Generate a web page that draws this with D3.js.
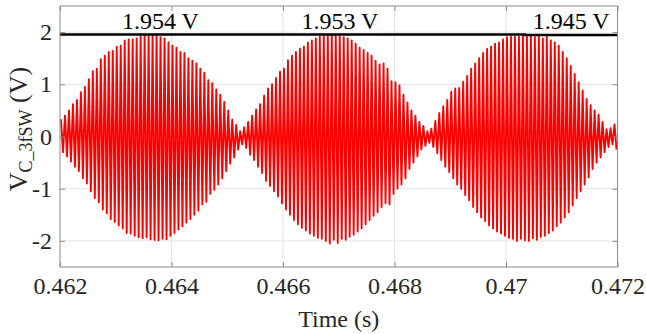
<!DOCTYPE html>
<html>
<head>
<meta charset="utf-8">
<script src="https://cdn.jsdelivr.net/npm/d3@7"></script>
<style>
  body { margin: 0; background: #fff; }
  svg { display: block; }
</style>
</head>
<body>
<svg id="chart" width="646" height="334"></svg>
<script>
// time window and ticks
const timeDomain = [0.462, 0.472];
const xTicks = [0.462, 0.464, 0.466, 0.468, 0.47, 0.472];
const yTicks = [-2, -1, 0, 1, 2];

// positive peak of each switching cycle (V)
const upperPeaks = [
  0.33, 0.40, 0.50, 0.62, 0.70, 0.85, 0.95, 1.10, 1.25, 1.30,
  1.48, 1.55, 1.62, 1.64, 1.72, 1.74, 1.84, 1.86, 1.86, 1.88,
  1.92, 1.93, 1.93, 1.95, 1.954, 1.90, 1.88, 1.80, 1.74, 1.70,
  1.62, 1.60, 1.50, 1.45, 1.40, 1.30, 1.22, 1.08, 1.02, 0.90,
  0.80, 0.66, 0.50, 0.32, 0.22, 0.10, 0.18, 0.28, 0.40, 0.52,
  0.62, 0.78, 0.92, 1.00, 1.12, 1.24, 1.30, 1.46, 1.55, 1.62,
  1.68, 1.72, 1.80, 1.84, 1.88, 1.91, 1.92, 1.93, 1.94, 1.95,
  1.953, 1.90, 1.88, 1.84, 1.78, 1.70, 1.66, 1.60, 1.55, 1.45,
  1.38, 1.40, 1.30, 1.06, 1.04, 0.98, 0.80, 0.65, 0.50, 0.40,
  0.28, 0.20, 0.10, 0.15, 0.30, 0.45, 0.58, 0.70, 0.86, 0.92,
  0.93, 1.05, 1.16, 1.30, 1.40, 1.50, 1.60, 1.68, 1.72, 1.78,
  1.80, 1.86, 1.90, 1.91, 1.91, 1.91, 1.92, 1.93, 1.945, 1.90,
  1.93, 1.88, 1.91, 1.84, 1.80, 1.74, 1.62, 1.50, 1.35, 1.20,
  1.04, 0.88, 0.72, 0.60, 0.50, 0.42, 0.28, 0.14, 0.16, 0.23
];

// negative peak of each switching cycle (V)
const lowerPeaks = [
  -0.30, -0.38, -0.48, -0.58, -0.66, -0.80, -0.90, -1.05, -1.18, -1.26,
  -1.40, -1.47, -1.58, -1.64, -1.70, -1.76, -1.85, -1.86, -1.90, -1.93,
  -1.95, -1.93, -1.97, -1.98, -1.99, -1.96, -1.97, -1.90, -1.85, -1.78,
  -1.72, -1.65, -1.58, -1.50, -1.42, -1.30, -1.25, -1.10, -1.02, -0.92,
  -0.80, -0.66, -0.52, -0.40, -0.25, -0.15, -0.22, -0.35, -0.45, -0.58,
  -0.70, -0.85, -0.95, -1.05, -1.15, -1.28, -1.40, -1.50, -1.60, -1.68,
  -1.75, -1.80, -1.86, -1.90, -1.94, -1.96, -2.00, -2.05, -1.98, -2.04,
  -1.96, -1.98, -1.92, -1.88, -1.82, -1.76, -1.68, -1.60, -1.52, -1.45,
  -1.35, -1.28, -1.30, -1.10, -1.00, -0.92, -0.80, -0.62, -0.50, -0.38,
  -0.25, -0.18, -0.12, -0.20, -0.32, -0.45, -0.58, -0.68, -0.80, -0.92,
  -1.00, -1.12, -1.22, -1.35, -1.45, -1.55, -1.62, -1.70, -1.76, -1.82,
  -1.86, -1.90, -1.94, -1.96, -2.00, -1.96, -1.99, -2.00, -1.95, -1.98,
  -1.92, -1.90, -1.85, -1.80, -1.72, -1.65, -1.55, -1.45, -1.32, -1.18,
  -1.05, -0.92, -0.78, -0.62, -0.50, -0.40, -0.30, -0.20, -0.15, -0.25
];

// peak-hold level (step changes) and annotations
const peakLevel = [
  { t: 0.462, v: 1.954 },
  { t: 0.4652, v: 1.953 },
  { t: 0.47034, v: 1.945 },
  { t: 0.472, v: 1.945 }
];
const peakNotes = [
  { t: 0.46380, text: "1.954 V" },
  { t: 0.46702, text: "1.953 V" },
  { t: 0.47117, text: "1.945 V" }
];

const svg = d3.select("#chart");
const margin = { left: 60, right: 28.5, top: 6, bottom: 67 };
const W = 646, H = 334;
const plotW = W - margin.left - margin.right;
const plotH = H - margin.top - margin.bottom;
const font = "'Liberation Serif', 'Times New Roman', serif";

const x = d3.scaleLinear().domain(timeDomain).range([margin.left, margin.left + plotW]);
const y = d3.scaleLinear().domain([-2.5, 2.5]).range([margin.top + plotH, margin.top]);

svg.append("defs").append("clipPath").attr("id", "plotClip")
   .append("rect")
   .attr("x", margin.left).attr("y", margin.top)
   .attr("width", plotW).attr("height", plotH);

// grid
const grid = svg.append("g").attr("class", "grid");
grid.selectAll("line.gx").data(xTicks.slice(1, -1)).join("line")
    .attr("x1", d => x(d)).attr("x2", d => x(d))
    .attr("y1", margin.top).attr("y2", margin.top + plotH)
    .attr("stroke", "#e3e3e3").attr("stroke-width", 1);
grid.selectAll("line.gy").data(yTicks).join("line")
    .attr("x1", margin.left).attr("x2", margin.left + plotW)
    .attr("y1", d => y(d)).attr("y2", d => y(d))
    .attr("stroke", "#e3e3e3").attr("stroke-width", 1);

// the switching waveform: alternate positive and negative peaks of each cycle
const period = (timeDomain[1] - timeDomain[0]) / upperPeaks.length;
const wave = [];
upperPeaks.forEach((v, i) => {
    wave.push([timeDomain[0] + (i + 0.25) * period, v]);
    wave.push([timeDomain[0] + (i + 0.75) * period, lowerPeaks[i]]);
});

const line = d3.line().x(d => x(d[0])).y(d => y(d[1]));

svg.append("path")
   .datum(wave)
   .attr("clip-path", "url(#plotClip)")
   .attr("d", line)
   .attr("fill", "none")
   .attr("stroke", "#ff0000")
   .attr("stroke-width", 1.9)
   .attr("stroke-linejoin", "round");

// peak level line
svg.append("path")
   .datum(peakLevel)
   .attr("clip-path", "url(#plotClip)")
   .attr("d", d3.line().curve(d3.curveStepAfter).x(d => x(d.t)).y(d => y(d.v)))
   .attr("fill", "none")
   .attr("stroke", "#000")
   .attr("stroke-width", 2.5);

// annotations with white backing
const notes = svg.append("g").attr("class", "notes");
peakNotes.forEach(n => {
    const g = notes.append("g");
    const txt = g.append("text")
       .attr("x", x(n.t))
       .attr("y", 29)
       .attr("text-anchor", "middle")
       .style("font-family", font)
       .style("font-size", "24px")
       .style("fill", "#000")
       .text(n.text);
    const bb = txt.node().getBBox();
    g.insert("rect", "text")
       .attr("x", bb.x - 2).attr("y", margin.top + 1)
       .attr("width", bb.width + 4).attr("height", y(peakLevel[0].v) - margin.top - 3)
       .attr("fill", "#fff");
});

// axes box
svg.append("rect")
   .attr("x", margin.left).attr("y", margin.top)
   .attr("width", plotW).attr("height", plotH)
   .attr("fill", "none").attr("stroke", "#8c8c8c").attr("stroke-width", 1);

const xAxis = d3.axisBottom(x).tickValues(xTicks).tickSize(-5).tickPadding(10)
                .tickFormat(d => String(+d.toFixed(3)));
const xTop = d3.axisTop(x).tickValues(xTicks).tickSize(-5).tickFormat("");
const yAxis = d3.axisLeft(y).tickValues(yTicks).tickSize(-5).tickPadding(8)
                .tickFormat(d => String(d));
const yRight = d3.axisRight(y).tickValues(yTicks).tickSize(-5).tickFormat("");

function styleAxis(g) {
    g.select(".domain").remove();
    g.selectAll(".tick line").attr("stroke", "#8c8c8c");
    g.selectAll(".tick text")
     .style("font-family", font)
     .style("font-size", "24px")
     .attr("fill", "#262626");
}

svg.append("g").attr("transform", `translate(0,${margin.top + plotH})`).call(xAxis).call(styleAxis);
svg.append("g").attr("transform", `translate(0,${margin.top})`).call(xTop).call(styleAxis);
svg.append("g").attr("transform", `translate(${margin.left},0)`).call(yAxis).call(styleAxis);
svg.append("g").attr("transform", `translate(${margin.left + plotW},0)`).call(yRight).call(styleAxis);

// axis titles
svg.append("text")
   .attr("x", x((timeDomain[0] + timeDomain[1]) / 2))
   .attr("y", 327)
   .attr("text-anchor", "middle")
   .style("font-family", font)
   .style("font-size", "24px")
   .attr("fill", "#262626")
   .text("Time (s)");

const yTitle = svg.append("text")
   .attr("transform", `translate(27,${129}) rotate(-90)`)
   .attr("text-anchor", "middle")
   .style("font-family", font)
   .style("font-size", "26px")
   .attr("fill", "#262626");
yTitle.append("tspan").text("V");
yTitle.append("tspan").attr("dy", 5).style("font-size", "18px").text("C_3fSW");
yTitle.append("tspan").attr("dy", -5).text(" (V)");
</script>
</body>
</html>
